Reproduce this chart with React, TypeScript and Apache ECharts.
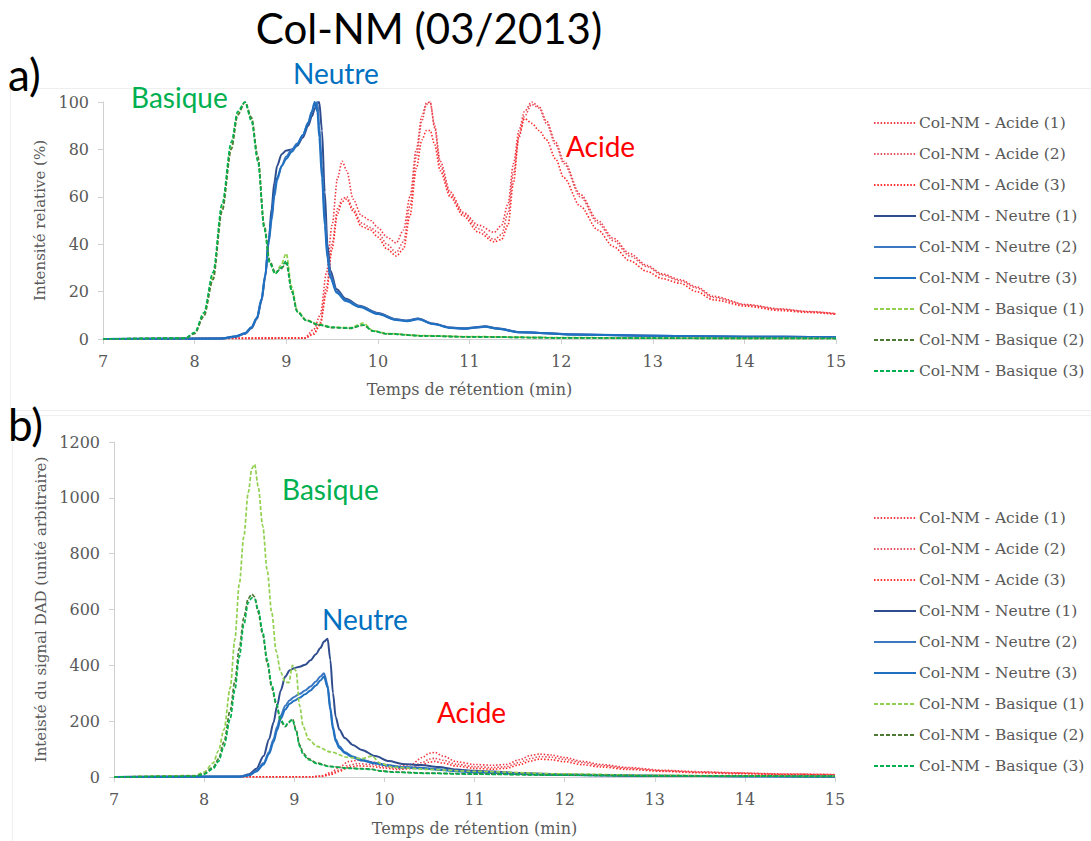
import React, { useEffect, useRef } from "react";
import * as echarts from "echarts";

// ---------- Data ----------
const seriesNames = [
  "Col-NM - Acide (1)",
  "Col-NM - Acide (2)",
  "Col-NM - Acide (3)",
  "Col-NM - Neutre (1)",
  "Col-NM - Neutre (2)",
  "Col-NM - Neutre (3)",
  "Col-NM - Basique (1)",
  "Col-NM - Basique (2)",
  "Col-NM - Basique (3)",
];

// Chart a) — relative intensity (%)
const tBasA = [7.0, 7.9, 8.0, 8.1, 8.2, 8.3, 8.4, 8.47, 8.55, 8.62, 8.69, 8.76, 8.82, 8.88, 8.94, 9.0, 9.06, 9.12, 9.22, 9.35, 9.5, 9.7, 9.84, 9.95, 10.1, 10.5, 11, 12, 13, 14, 15];
const basA1 = [0, 0.3, 2.5, 10, 26, 55, 81, 95, 100, 93, 76, 47, 32, 27.5, 31, 36, 22, 12, 8, 6.3, 5, 4.8, 6.7, 3.5, 2.3, 1.4, 1.0, 0.6, 0.4, 0.3, 0.2];
const basA2 = [0, 0.3, 2.3, 9.5, 25, 54, 80, 94.5, 100, 93.5, 77, 48, 33, 28, 29.5, 32, 20, 11.5, 7.8, 6, 4.8, 4.5, 5.8, 3.3, 2.2, 1.3, 0.9, 0.5, 0.35, 0.25, 0.2];
const basA3 = [0, 0.4, 2.8, 11, 28, 57, 83, 96, 100, 92, 75, 46.5, 32, 27.5, 30, 33, 20.5, 11.5, 7.8, 6, 4.9, 4.6, 5.9, 3.3, 2.2, 1.3, 0.9, 0.5, 0.35, 0.25, 0.2];

const tNeuA = [7, 8.3, 8.45, 8.55, 8.62, 8.68, 8.73, 8.77, 8.81, 8.84, 8.87, 8.9, 8.95, 9.0, 9.06, 9.12, 9.18, 9.24, 9.28, 9.31, 9.34, 9.36, 9.39, 9.42, 9.45, 9.48, 9.55, 9.65, 9.8, 10.0, 10.2, 10.32, 10.44, 10.6, 10.8, 10.95, 11.07, 11.17, 11.3, 11.55, 12.2, 13, 14, 15];
const neuA1 = [0, 0.2, 1.0, 2.2, 4.5, 8.5, 16, 26, 42, 55, 66, 73, 78, 79.5, 80, 81.5, 85, 90, 94, 97, 99.5, 100, 88, 62, 40, 29, 21, 17, 14, 11, 8.3, 7.8, 8.6, 6.5, 4.8, 4.5, 5, 5.4, 4.5, 2.9, 1.9, 1.4, 1.0, 0.7];
const neuA2 = [0, 0.2, 1.1, 2.3, 4.8, 8.8, 16.5, 26.5, 41, 50, 60, 67, 73, 77, 80, 82.5, 86, 91.5, 96, 99, 100, 90, 73, 52, 36, 27, 20, 16.5, 13.8, 10.8, 8.2, 7.7, 8.5, 6.4, 4.7, 4.4, 4.9, 5.3, 4.4, 2.85, 1.85, 1.4, 1.0, 0.7];
const neuA3 = [0, 0.2, 1.2, 2.5, 5, 9, 17, 27, 42, 52, 62, 68, 73, 76, 79, 82, 86, 91, 96, 100, 96, 85, 68, 48, 34, 26, 19.5, 16, 13.5, 10.5, 8, 7.5, 8.3, 6.3, 4.6, 4.3, 4.8, 5.2, 4.3, 2.8, 1.8, 1.4, 1.0, 0.7];

const tAcA = [7, 9.2, 9.3, 9.37, 9.44, 9.5, 9.56, 9.61, 9.66, 9.73, 9.82, 9.92, 10.0, 10.1, 10.2, 10.28, 10.35, 10.42, 10.48, 10.53, 10.57, 10.62, 10.68, 10.79, 10.93, 11.1, 11.27, 11.35, 11.42, 11.48, 11.54, 11.6, 11.68, 11.76, 11.84, 11.94, 12.03, 12.21, 12.4, 12.57, 12.75, 12.94, 13.1, 13.3, 13.48, 13.66, 14.03, 14.39, 14.7, 15];
const acA1 = [0, 0.5, 4, 10, 28, 48, 68, 75, 71, 59, 52, 50, 47, 43, 40.5, 46, 60, 80, 94, 99.5, 100, 90, 75, 62, 53.5, 48, 45, 48, 57, 74, 88, 96, 100, 98, 92, 83, 75, 61, 50, 42.5, 36, 31, 27.5, 25, 22, 18, 14.5, 12.7, 11.6, 10.7];
const acA2 = [0, 0.3, 2.5, 7, 22, 40, 55, 59, 60, 55, 49, 47, 45, 40, 36.5, 41, 56, 77, 92, 99, 100, 89, 73, 61, 53, 46.5, 42, 44, 53, 70, 85, 94, 99, 97.5, 91, 82, 74, 60, 49, 41.5, 35, 30.5, 27, 24.5, 21.5, 17.5, 14.3, 12.5, 11.5, 10.6];
const acA3 = [0, 0.3, 2, 6, 20, 38, 53, 58, 59, 54, 47.5, 46, 43, 38, 35, 38, 52, 72, 84, 88, 88, 82, 71, 60, 52, 45, 41, 42, 48, 66, 86, 93, 91, 88, 84, 76, 68, 56, 46, 39, 33, 28.5, 25.5, 23.5, 20, 16.5, 13.8, 12, 11.2, 10.4];

// Chart b) — DAD signal (arbitrary units)
const tBasB = [7, 7.9, 8.0, 8.1, 8.16, 8.22, 8.29, 8.34, 8.39, 8.44, 8.49, 8.53, 8.56, 8.6, 8.65, 8.7, 8.75, 8.8, 8.85, 8.9, 8.94, 8.98, 9.02, 9.06, 9.1, 9.16, 9.25, 9.4, 9.6, 9.75, 9.86, 9.96, 10.1, 10.5, 11, 12, 13, 14, 15];
const basB1 = [0, 5, 18, 50, 95, 170, 320, 490, 690, 860, 1020, 1105, 1120, 1040, 900, 740, 590, 450, 375, 340, 338, 400, 380, 255, 180, 135, 110, 90, 70, 66, 75, 48, 35, 27, 20, 11, 6, 4, 3];
const basB2 = [0, 3, 12, 35, 65, 125, 240, 340, 460, 570, 640, 655, 645, 590, 510, 410, 320, 260, 200, 180, 195, 208, 170, 115, 85, 65, 50, 38, 32, 30, 28, 22, 18, 14, 11, 7, 4, 3, 2];
const basB3 = [0, 2, 10, 30, 56, 110, 210, 310, 430, 545, 625, 642, 638, 600, 520, 420, 330, 265, 205, 182, 198, 205, 165, 110, 80, 62, 48, 37, 31, 29, 27, 21, 17, 13, 10, 6.5, 4, 3, 2];

const tNeuB = [7, 8.4, 8.5, 8.58, 8.66, 8.72, 8.77, 8.81, 8.85, 8.9, 8.95, 9.0, 9.06, 9.12, 9.18, 9.24, 9.29, 9.33, 9.37, 9.4, 9.43, 9.46, 9.5, 9.56, 9.65, 9.75, 9.9, 10.05, 10.2, 10.4, 10.6, 10.8, 11.0, 11.2, 11.5, 12, 13, 14, 15];
const neuB1 = [0, 2, 10, 30, 75, 135, 195, 255, 310, 360, 382, 390, 395, 402, 418, 440, 462, 485, 495, 420, 300, 215, 170, 140, 115, 97, 75, 57, 47, 43, 36, 27, 22, 20, 14, 9, 5, 3, 2];
const neuB2 = [0, 1.5, 7, 22, 50, 90, 135, 180, 220, 255, 275, 287, 298, 310, 324, 342, 360, 372, 330, 250, 180, 135, 110, 90, 73, 62, 50, 42, 36, 33, 28, 22, 18, 16, 12, 8, 4, 3, 2];
const neuB3 = [0, 1.2, 6, 20, 45, 82, 125, 168, 208, 242, 262, 273, 284, 296, 310, 328, 346, 360, 320, 240, 170, 128, 104, 86, 70, 59, 48, 40, 34, 31, 26, 21, 17, 15, 11, 7, 4, 2.5, 1.5];

const tAcB = [7, 9.2, 9.3, 9.4, 9.5, 9.6, 9.7, 9.85, 10.0, 10.15, 10.3, 10.42, 10.5, 10.56, 10.65, 10.8, 11.0, 11.2, 11.35, 11.5, 11.62, 11.72, 11.85, 12.0, 12.2, 12.4, 12.7, 13.1, 13.5, 13.9, 14.4, 15];
const acB1 = [0, 1, 4, 15, 35, 55, 60, 55, 45, 38, 45, 70, 85, 88, 75, 55, 45, 42, 45, 62, 77, 82, 79, 70, 56, 45, 34, 24, 19, 15, 11, 9];
const acB2 = [0, 0.8, 3, 10, 25, 42, 48, 45, 37, 31, 35, 52, 64, 67, 60, 46, 37, 34, 37, 52, 66, 73, 71, 63, 51, 41, 31, 22, 17, 14, 10, 8];
const acB3 = [0, 0.6, 2, 8, 20, 35, 40, 38, 32, 27, 30, 44, 53, 56, 50, 39, 31, 28, 31, 44, 57, 64, 62, 55, 44, 36, 27, 20, 15, 12, 9, 7];

// Axis scales
const xMin = 7, xMax = 15, xStep = 1;
const yAMax = 100, yAStep = 20;
const yBMax = 1200, yBStep = 200;

// ---------- Styling ----------
const SERIF = "'DejaVu Serif', serif";
const SANS = "Lato, 'Open Sans', sans-serif";
const GRAY = "#595959";
const AXIS = "#d0d0d0";

const colors = [
  "#F03A44", "#E4505C", "#FF2A2A",
  "#2F4D8E", "#3C78C2", "#1F70C1",
  "#92D050", "#4E7A34", "#00B050",
];
const kinds = ["ac", "ac", "ac", "ne", "ne", "ne", "ba", "ba", "ba"];

function pairs(t: number[], v: number[]) {
  return t.map((x, i) => [x, v[i]]);
}

function lineStyleFor(kind: string, color: string) {
  if (kind === "ac") return { color, width: 1.6, type: [1.5, 1.8] as any, cap: "butt" };
  if (kind === "ne") return { color, width: 2 };
  return { color, width: 1.7, type: [4, 2] as any };
}

function makeSeries(idx: number, data: number[][], axis: number) {
  const kind = kinds[idx];
  return {
    type: "line",
    name: seriesNames[idx],
    xAxisIndex: axis,
    yAxisIndex: axis,
    data,
    symbol: "none",
    smooth: 0.3,
    smoothMonotone: "x",
    color: colors[idx],
    lineStyle: lineStyleFor(kind, colors[idx]),
    emphasis: { disabled: true },
  };
}

function xAxisFor(gridIndex: number, nameGap: number) {
  return {
    type: "value",
    gridIndex,
    min: xMin,
    max: xMax,
    interval: xStep,
    name: "Temps de rétention (min)",
    nameLocation: "middle",
    nameGap,
    nameTextStyle: { fontFamily: SERIF, fontSize: 16, color: GRAY },
    axisLine: { show: true, lineStyle: { color: AXIS, width: 1 } },
    axisTick: { show: true, length: 5, lineStyle: { color: AXIS } },
    axisLabel: { fontFamily: SERIF, fontSize: 16, color: GRAY, margin: 14, formatter: (v: number) => String(v) },
    splitLine: { show: false },
  };
}

function yAxisFor(gridIndex: number, max: number, step: number, name: string, nameGap: number) {
  return {
    type: "value",
    gridIndex,
    min: 0,
    max,
    interval: step,
    name,
    nameLocation: "middle",
    nameGap,
    nameTextStyle: { fontFamily: SERIF, fontSize: 15, color: GRAY },
    axisLine: { show: true, lineStyle: { color: AXIS, width: 1 } },
    axisTick: { show: true, length: 5, lineStyle: { color: AXIS } },
    axisLabel: { fontFamily: SERIF, fontSize: 16, color: GRAY, margin: 14, formatter: (v: number) => String(v) },
    splitLine: { show: false },
  };
}

function legendFor(top: number) {
  return {
    orient: "vertical",
    left: 868,
    top,
    itemWidth: 42,
    itemHeight: 14,
    itemGap: 15,
    data: seriesNames,
    selectedMode: false,
    itemStyle: { opacity: 0 },
    textStyle: { fontFamily: SERIF, fontSize: 15.5, color: GRAY, lineHeight: 16, padding: [0, 0, 0, -2] },
  };
}

function label(text: string, x: number, y: number, size: number, fill: string, align = "left") {
  return {
    type: "text",
    x,
    y,
    silent: true,
    style: {
      text,
      fontFamily: SANS,
      fontSize: size,
      fill,
      textAlign: align,
      align,
      textVerticalAlign: "middle",
      verticalAlign: "middle",
    },
  };
}

export default function App() {
  const ref = useRef<HTMLDivElement>(null);

  useEffect(() => {
    document.body.style.margin = "0";
    if (!ref.current) return;
    const chart = echarts.init(ref.current, undefined, { renderer: "svg" });

    const seriesA = [
      makeSeries(0, pairs(tAcA, acA1), 0),
      makeSeries(1, pairs(tAcA, acA2), 0),
      makeSeries(2, pairs(tAcA, acA3), 0),
      makeSeries(3, pairs(tNeuA, neuA1), 0),
      makeSeries(4, pairs(tNeuA, neuA2), 0),
      makeSeries(5, pairs(tNeuA, neuA3), 0),
      makeSeries(6, pairs(tBasA, basA1), 0),
      makeSeries(7, pairs(tBasA, basA2), 0),
      makeSeries(8, pairs(tBasA, basA3), 0),
    ];
    const seriesB = [
      makeSeries(0, pairs(tAcB, acB1), 1),
      makeSeries(1, pairs(tAcB, acB2), 1),
      makeSeries(2, pairs(tAcB, acB3), 1),
      makeSeries(3, pairs(tNeuB, neuB1), 1),
      makeSeries(4, pairs(tNeuB, neuB2), 1),
      makeSeries(5, pairs(tNeuB, neuB3), 1),
      makeSeries(6, pairs(tBasB, basB1), 1),
      makeSeries(7, pairs(tBasB, basB2), 1),
      makeSeries(8, pairs(tBasB, basB3), 1),
    ];

    chart.setOption({
      animation: false,
      backgroundColor: "#ffffff",
      grid: [
        { left: 103, right: 255, top: 102, height: 237 },
        { left: 114, right: 256, top: 442, height: 335 },
      ],
      xAxis: [xAxisFor(0, 42), xAxisFor(1, 43)],
      yAxis: [
        yAxisFor(0, yAMax, yAStep, "Intensité relative (%)", 52),
        yAxisFor(1, yBMax, yBStep, "Inteisté du signal DAD (unité arbitraire)", 63),
      ],
      legend: [legendFor(110), legendFor(505)],
      graphic: [
        {
          type: "rect",
          silent: true,
          z: -10,
          shape: { x: 10.5, y: 88.5, width: 1090, height: 322 },
          style: { fill: "none", stroke: "#efefef", lineWidth: 1 },
        },
        {
          type: "rect",
          silent: true,
          z: -10,
          shape: { x: 12.5, y: 415.5, width: 1090, height: 440 },
          style: { fill: "none", stroke: "#efefef", lineWidth: 1 },
        },
        label("Col-NM (03/2013)", 429, 28, 42, "#000000", "center"),
        label("a)", 8, 74, 44, "#000000"),
        label("b)", 8, 424, 44, "#000000"),
        label("Basique", 131, 97, 28, "#00B050"),
        label("Neutre", 293, 73, 28, "#0070C0"),
        label("Acide", 566, 146, 28, "#FF0000"),
        label("Basique", 282, 489, 28, "#00B050"),
        label("Neutre", 322, 619, 28, "#0070C0"),
        label("Acide", 437, 712, 28, "#FF0000"),
      ],
      series: [...seriesA, ...seriesB],
    });

    return () => chart.dispose();
  }, []);

  return <div ref={ref} style={{ width: 1091, height: 841 }} />;
}
